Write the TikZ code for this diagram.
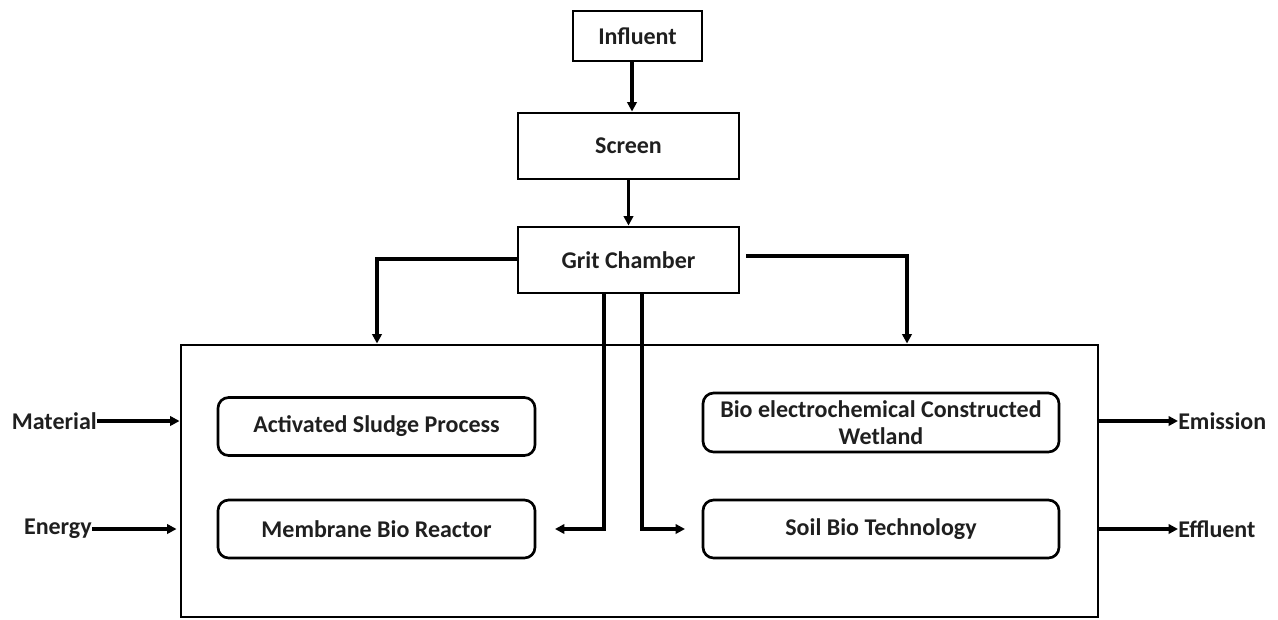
\documentclass[tikz,border=0pt]{standalone}
\usepackage{fontspec}
\setmainfont{Carlito}
\usetikzlibrary{arrows.meta,calc}
\begin{document}
\begin{tikzpicture}[x=0.75pt,y=-0.75pt,
  lbl/.style={font=\bfseries\fontsize{18}{20.5}\selectfont, text=black!88},
  sqbox/.style={draw, line width=2.2pt, inner sep=0pt, lbl, align=center},
  rbox/.style={draw, line width=2pt, rounded corners=8pt, inner sep=0pt, lbl, align=center},
  arr/.style={line width=2.5pt, -{Triangle[length=7pt,width=7pt]}},
  ln/.style={line width=2.5pt}]
\useasboundingbox (0,0) rectangle (1278,619);
% system box
\node[draw, line width=2.2pt, minimum width=687.75pt, minimum height=204pt, inner sep=0pt] (sys) at (639.5,481) {};
% top chain
\node[sqbox, minimum width=96.75pt, minimum height=37.5pt] (infl) at (637.5,36) {Influent};
\node[sqbox, minimum width=165.75pt, minimum height=49.5pt] (scr) at (628.5,146) {Screen};
\node[sqbox, minimum width=165.75pt, minimum height=49.5pt] (grit) at (628.5,260) {Grit Chamber};
% process boxes
\node[rbox, minimum width=237.75pt, minimum height=43.5pt] (asp) at (376.5,426.5) {Activated Sludge Process};
\node[rbox, minimum width=237.75pt, minimum height=43.5pt] (mbr) at (376.5,529) {Membrane Bio Reactor};
\node[rbox, minimum width=267pt, minimum height=44.25pt] (becw) at (881,422.5) {Bio electrochemical Constructed\\Wetland};
\node[rbox, minimum width=267pt, minimum height=43.5pt] (sbt) at (881,529) {Soil Bio Technology};
% outside labels
\node[lbl, anchor=east, inner sep=0pt] (mat) at (97,421) {Material};
\node[lbl, anchor=east, inner sep=0pt] (ene) at (92,529) {Energy};
\node[lbl, anchor=west, inner sep=0pt] (emi) at (1178,421) {Emission};
\node[lbl, anchor=west, inner sep=0pt] (eff) at (1178,529) {Effluent};
% coordinates
\coordinate (i1) at ($(infl.south)+(-5.5,0)$);
\coordinate (gL) at (377,259);
\coordinate (gR0) at (746,256);
\coordinate (gR) at (907,256);
\coordinate (v1) at (604,293);
\coordinate (v1b) at (604,529);
\coordinate (v2) at (642,293);
\coordinate (v2b) at (642,529);
\coordinate (mbrT) at (555,529);
\coordinate (sbtT) at (685,529);
% connectors
\draw[arr, line width=3.2pt] (i1) -- (i1 |- scr.north);
\draw[arr] (scr.south) -- (grit.north);
\draw[arr] (grit.west |- gL) -- (gL) -- (gL |- sys.north);
\draw[arr] (gR0) -- (gR) -- (gR |- sys.north);
\draw[arr] (v1) -- (v1b) -- (mbrT);
\draw[arr] (v2) -- (v2b) -- (sbtT);
\draw[arr] (mat.east) -- (mat.east -| sys.west);
\draw[arr] (ene.east) -- ($(ene.east -| sys.west)+(-3,0)$);
\draw[arr] (emi.west -| sys.east) -- (emi.west);
\draw[arr] (eff.west -| sys.east) -- (eff.west);
\end{tikzpicture}
\end{document}
